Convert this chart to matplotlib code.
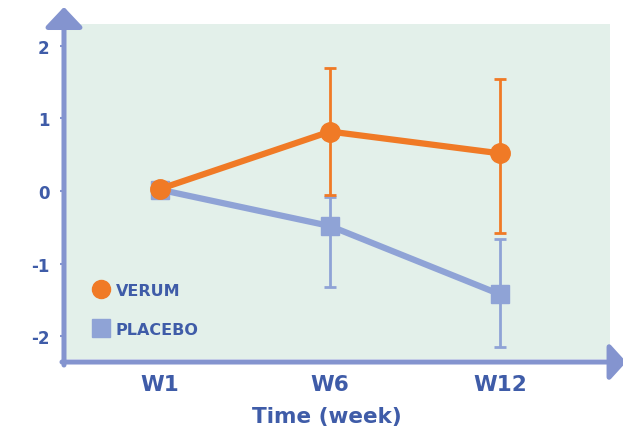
import matplotlib
matplotlib.use("Agg")
import matplotlib.pyplot as plt
from matplotlib.lines import Line2D

# data
weeks = ["W1", "W6", "W12"]
verum = [0.03, 0.82, 0.52]
verum_lo = [0.03, -0.05, -0.58]
verum_hi = [0.03, 1.69, 1.54]
placebo = [0.02, -0.48, -1.42]
placebo_lo = [0.02, -1.32, -2.15]
placebo_hi = [0.02, -0.08, -0.66]
yticks = [-2, -1, 0, 1, 2]

ORANGE = "#f07a26"
LILAC = "#8fa3d6"
AXIS = "#8494cf"
TEXT = "#3f5ca8"
BG = "#e3f0ea"

plt.rcParams["font.family"] = ["DejaVu Sans"]
plt.rcParams["axes.unicode_minus"] = False

fig = plt.figure(figsize=(6.23, 4.31), dpi=100)
ax = fig.add_axes([66 / 623, 1 - 360 / 431, 544 / 623, 335 / 431])
ax.set_facecolor(BG)

x = list(range(len(weeks)))

# error bars
v_err = [[v - lo for v, lo in zip(verum, verum_lo)], [hi - v for v, hi in zip(verum, verum_hi)]]
p_err = [[v - lo for v, lo in zip(placebo, placebo_lo)], [hi - v for v, hi in zip(placebo, placebo_hi)]]
ax.errorbar(x, placebo, yerr=p_err, fmt="none", ecolor=LILAC, elinewidth=2, capsize=4, capthick=2, zorder=2)
ax.errorbar(x, verum, yerr=v_err, fmt="none", ecolor=ORANGE, elinewidth=2, capsize=4, capthick=2, zorder=3)

ax.plot(x, placebo, color=LILAC, lw=4.5, marker="s", ms=13, solid_capstyle="butt", zorder=4)
ax.plot(x, verum, color=ORANGE, lw=4.5, marker="o", ms=14, zorder=5)

ax.set_xlim(-0.553, 2.647)
ax.set_ylim(-2.31, 2.30)
ax.set_xticks(x)
ax.set_xticklabels(weeks)
ax.set_yticks(yticks)

for s in ax.spines.values():
    s.set_visible(False)
ax.tick_params(axis="x", length=0, pad=11, labelsize=15.5, labelcolor=TEXT)
ax.tick_params(axis="y", length=4, width=1.5, color=AXIS, pad=8, labelsize=12, labelcolor=TEXT)
for lab in ax.get_xticklabels() + ax.get_yticklabels():
    lab.set_fontweight("bold")

ax.set_xlabel("Time (week)", fontsize=15.5, fontweight="bold", color=TEXT)
ax.xaxis.set_label_coords(0.48, -0.14)

# axis arrows
ax.annotate("", xy=(-0.0037, 1.051), xytext=(-0.0037, -0.018), xycoords="axes fraction",
            arrowprops=dict(arrowstyle="-|>,head_length=1.22,head_width=1.15", color=AXIS,
                            lw=3.6, mutation_scale=10, shrinkA=0, shrinkB=0), annotation_clip=False)
ax.annotate("", xy=(1.03, -0.009), xytext=(-0.0074, -0.009), xycoords="axes fraction",
            arrowprops=dict(arrowstyle="-|>,head_length=1.0,head_width=1.1", color=AXIS,
                            lw=3.6, mutation_scale=10, shrinkA=0, shrinkB=0), annotation_clip=False)

handles = [
    Line2D([], [], ls="none", marker="o", ms=13, color=ORANGE, label="VERUM"),
    Line2D([], [], ls="none", marker="s", ms=13, color=LILAC, label="PLACEBO"),
]
leg = ax.legend(handles=handles, loc="upper left", bbox_to_anchor=(0.027, 0.27), frameon=False,
                handlelength=0.8, handletextpad=0.5, labelspacing=1.5,
                prop={"size": 11.5, "weight": "bold"})
for t in leg.get_texts():
    t.set_color(TEXT)

fig.savefig("out.png", dpi=100)
